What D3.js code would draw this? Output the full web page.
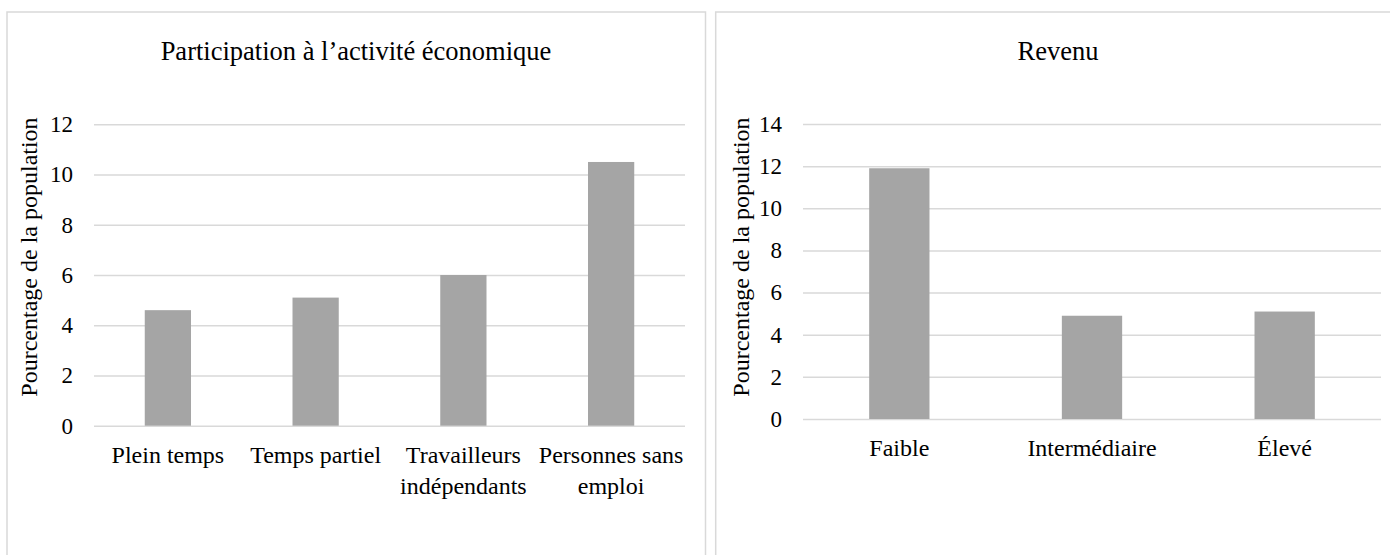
<!DOCTYPE html>
<html lang="fr">
<head>
<meta charset="utf-8">
<script src="https://cdn.jsdelivr.net/npm/d3@7"></script>
<style>
  html, body { margin: 0; padding: 0; background: #fff; }
  svg, svg text { font-family: 'Liberation Serif', 'Times New Roman', Times, 'DejaVu Serif', serif !important; }
</style>
</head>
<body>
<svg id="chart" width="1390" height="555"></svg>
<script>
// Participation à l'activité économique
const emploiCategories = ["Plein temps", "Temps partiel", "Travailleurs indépendants", "Personnes sans emploi"];
const emploiValues = [4.6, 5.1, 6.0, 10.5];
const emploiTicks = [0, 2, 4, 6, 8, 10, 12];

// Revenu
const revenuCategories = ["Faible", "Intermédiaire", "Élevé"];
const revenuValues = [11.9, 4.9, 5.1];
const revenuTicks = [0, 2, 4, 6, 8, 10, 12, 14];

const yTitle = "Pourcentage de la population";

const FONT = "'Liberation Serif', 'Times New Roman', Times, 'DejaVu Serif', serif";
const svg = d3.select("#chart").attr("font-family", FONT);
const BORDER = "#d9d9d9";
const GRID = "#d9d9d9";
const BAR = "#a5a5a5";
const TEXT = "#000";

function wrapLabel(textSel, width) {
  textSel.each(function () {
    const t = d3.select(this);
    const words = t.text().split(/\s+/);
    const x = t.attr("x") || 0;
    t.text(null);
    let line = [];
    let tspan = t.append("tspan").attr("x", x).attr("dy", 0);
    for (const w of words) {
      line.push(w);
      tspan.text(line.join(" "));
      if (tspan.node().getComputedTextLength() > width && line.length > 1) {
        line.pop();
        tspan.text(line.join(" "));
        line = [w];
        tspan = t.append("tspan").attr("x", x).attr("dy", "1.3em").text(w);
      }
    }
  });
}

function panel(opts) {
  const g = svg.append("g");

  // panel frame
  g.append("rect")
    .attr("x", opts.box.x).attr("y", opts.box.y)
    .attr("width", opts.box.w).attr("height", opts.box.h)
    .attr("fill", "#fff").attr("stroke", BORDER).attr("stroke-width", 1.5);

  const x = d3.scaleBand()
    .domain(opts.categories)
    .range([opts.plot.x0, opts.plot.x1])
    .paddingInner(0.687).paddingOuter(0.3435);

  const y = d3.scaleLinear()
    .domain([0, opts.ticks[opts.ticks.length - 1]])
    .range([opts.plot.y0, opts.plot.y1]);

  // horizontal gridlines with value labels
  const yAxis = d3.axisLeft(y)
    .tickValues(opts.ticks)
    .tickSize(-(opts.plot.x1 - opts.plot.x0))
    .tickPadding(21)
    .tickFormat(d3.format("d"));

  const ya = g.append("g")
    .attr("transform", `translate(${opts.plot.x0},0)`)
    .call(yAxis)
    .attr("font-family", FONT)
    .attr("font-size", 23);
  ya.select(".domain").remove();
  ya.selectAll(".tick line").attr("stroke", GRID).attr("stroke-width", 1.5);
  ya.selectAll(".tick text").attr("fill", TEXT);

  // bars
  g.append("g").selectAll("rect")
    .data(opts.values)
    .join("rect")
    .attr("x", (d, i) => x(opts.categories[i]))
    .attr("width", x.bandwidth())
    .attr("y", d => y(d))
    .attr("height", d => y(0) - y(d))
    .attr("fill", BAR);

  // category axis
  const xAxis = d3.axisBottom(x).tickSize(0).tickPadding(0);
  const xa = g.append("g")
    .attr("transform", `translate(0,${opts.plot.y0})`)
    .call(xAxis)
    .attr("font-family", FONT)
    .attr("font-size", 24);
  xa.select(".domain").remove();
  xa.selectAll(".tick text")
    .attr("fill", TEXT)
    .attr("y", 37)
    .attr("dy", 0)
    .call(wrapLabel, x.step() - 2);

  // axis title
  g.append("text")
    .attr("transform", `translate(${opts.yTitleX},${opts.yTitleY}) rotate(-90)`)
    .attr("text-anchor", "middle")
    .attr("dy", "0.35em")
    .attr("font-size", 24)
    .attr("fill", TEXT)
    .text(yTitle);

  // chart title
  g.append("text")
    .attr("x", opts.titleX)
    .attr("y", 60)
    .attr("text-anchor", "middle")
    .attr("font-size", 26.5)
    .attr("fill", TEXT)
    .text(opts.title);
}

panel({
  title: "Participation à l’activité économique",
  categories: emploiCategories,
  values: emploiValues,
  ticks: emploiTicks,
  box: { x: 7, y: 12, w: 698.5, h: 560 },
  plot: { x0: 94, x1: 685, y0: 425.7, y1: 124.3 },
  yTitleX: 29,
  yTitleY: 257,
  titleX: 356
});

panel({
  title: "Revenu",
  categories: revenuCategories,
  values: revenuValues,
  ticks: revenuTicks,
  box: { x: 715.7, y: 12, w: 698.5, h: 560 },
  plot: { x0: 803, x1: 1381, y0: 419, y1: 124 },
  yTitleX: 741,
  yTitleY: 257,
  titleX: 1058
});
</script>
</body>
</html>
